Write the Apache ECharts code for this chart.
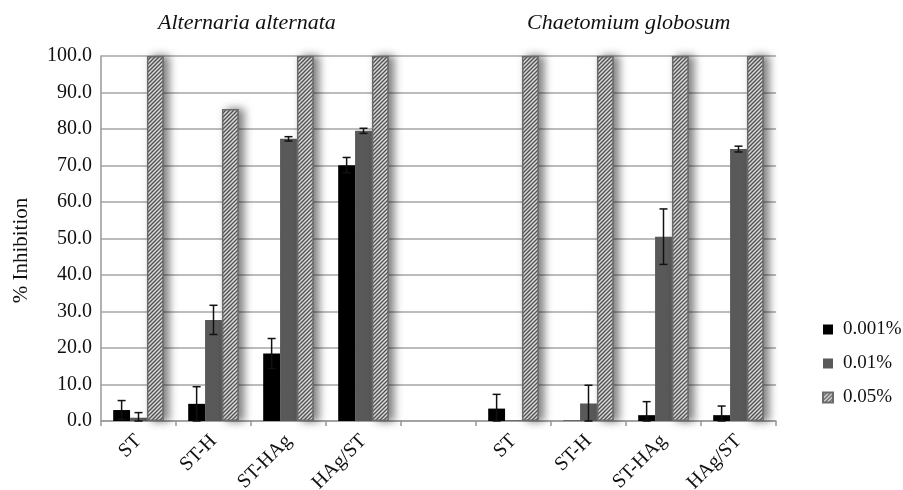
<!DOCTYPE html>
<html><head><meta charset="utf-8">
<script src="https://cdn.jsdelivr.net/npm/echarts@6/dist/echarts.min.js"></script>
<style>html,body{margin:0;padding:0;background:#fff}#c{width:903px;height:490px}</style>
</head><body><div id="c"></div>
<script>
const categories = ['ST','ST-H','ST-HAg','HAg/ST','','ST','ST-H','ST-HAg','HAg/ST'];
const seriesNames = ['0.001%','0.01%','0.05%'];
const v001 = [3.0, 4.7, 18.5, 70.1, null, 3.4, 0.1, 1.6, 1.6];
const e001 = [2.6, 4.7, 4.1, 2.1, null, 3.9, 0, 3.7, 2.5];
const v01  = [0.9, 27.7, 77.3, 79.5, null, 0.2, 4.8, 50.5, 74.5];
const e01  = [1.4, 4.0, 0.6, 0.7, null, 0, 5.0, 7.6, 0.8];
const v05  = [100, 85.5, 100, 100, null, 100, 100, 100, 100];
const yTicks = [0,10,20,30,40,50,60,70,80,90,100];
const groupTitles = ['Alternaria alternata','Chaetomium globosum'];

const FONT = '"Liberation Serif", "DejaVu Serif", serif';
const BW = 0.225;

const pc = document.createElement('canvas');
pc.width = 4; pc.height = 4;
const g = pc.getContext('2d');
g.fillStyle = '#e6e6e6'; g.fillRect(0,0,4,4);
g.strokeStyle = '#555'; g.lineWidth = 1.3;
g.beginPath();
g.moveTo(-1,5); g.lineTo(5,-1);
g.moveTo(-1,1); g.lineTo(1,-1);
g.moveTo(3,5); g.lineTo(5,3);
g.stroke();
const hatch = {image: pc, repeat: 'repeat'};

function errData(vals, errs, s){
  const out = [];
  vals.forEach((v,i)=>{ if (v!=null && errs[i]) out.push([i, v, errs[i], s]); });
  return out;
}
function renderErr(params, api){
  const idx = api.value(0), v = api.value(1), e = api.value(2), s = api.value(3);
  const band = api.size([1,0])[0];
  const x = api.coord([idx, v])[0] + (s-1)*band*BW;
  const yT = api.coord([idx, v+e])[1];
  const yB = api.coord([idx, Math.max(0, v-e)])[1];
  const h = 4;
  const st = {stroke:'#111', lineWidth:1.5};
  return {type:'group', children:[
    {type:'line', shape:{x1:x,y1:yT,x2:x,y2:yB}, style:st},
    {type:'line', shape:{x1:x-h,y1:yT,x2:x+h,y2:yT}, style:st},
    {type:'line', shape:{x1:x-h,y1:yB,x2:x+h,y2:yB}, style:st}
  ]};
}

const chart = echarts.init(document.getElementById('c'));
chart.setOption({
  animation:false,
  backgroundColor:'#fff',
  grid:{left:101, right:127, top:56, bottom:69, containLabel:false, outerBoundsMode:'none'},
  graphic:[
    {type:'text', left:158, top:12, style:{text:groupTitles[0], font:'italic 22px '+FONT, fill:'#111'}},
    {type:'text', left:527, top:12, style:{text:groupTitles[1], font:'italic 22px '+FONT, fill:'#111'}}
  ],
  legend:{
    orient:'vertical', left:817, top:315, itemWidth:10, itemHeight:10, itemGap:15,
    icon:'rect', data:seriesNames,
    textStyle:{fontFamily:FONT, fontSize:19, color:'#111', padding:[0,0,0,5]}
  },
  xAxis:{
    type:'category', data:categories.map((_,i)=>String(i)),
    axisLine:{lineStyle:{color:'#999', width:1.5}},
    axisTick:{show:true, length:5, lineStyle:{color:'#999', width:1.5}},
    axisLabel:{interval:0, rotate:45, margin:17, fontFamily:FONT, fontSize:20, color:'#111',
      formatter:(v,i)=>categories[i]}
  },
  yAxis:{
    type:'value', min:0, max:100, interval:10,
    name:'% Inhibition', nameLocation:'middle', nameGap:69, nameRotate:90,
    nameTextStyle:{fontFamily:FONT, fontSize:21, color:'#111', padding:[0,24,0,0]},
    axisLine:{show:true, lineStyle:{color:'#999', width:1.5}},
    axisTick:{show:false},
    splitLine:{lineStyle:{color:'#a6a6a6', width:1.5}},
    axisLabel:{margin:9, fontFamily:FONT, fontSize:20, color:'#111',
      formatter:v=> yTicks.includes(v) ? v.toFixed(1) : ''}
  },
  series:[
    {name:seriesNames[0], type:'bar', data:v001, barWidth:(BW*100)+'%', barGap:'0%',
      itemStyle:{color:'#000'}},
    {name:seriesNames[1], type:'bar', data:v01, barWidth:(BW*100)+'%', barGap:'0%',
      itemStyle:{color:'#595959'}},
    {name:seriesNames[2], type:'bar', data:v05, barWidth:(BW*100)+'%', barGap:'0%',
      itemStyle:{color:hatch, borderColor:'#6a6a6a', borderWidth:1.5,
        shadowColor:'rgba(0,0,0,0.5)', shadowBlur:8, shadowOffsetX:5}},
    {type:'custom', renderItem:renderErr, data:errData(v001,e001,0), z:5, silent:true},
    {type:'custom', renderItem:renderErr, data:errData(v01,e01,1), z:5, silent:true}
  ]
});
</script></body></html>
